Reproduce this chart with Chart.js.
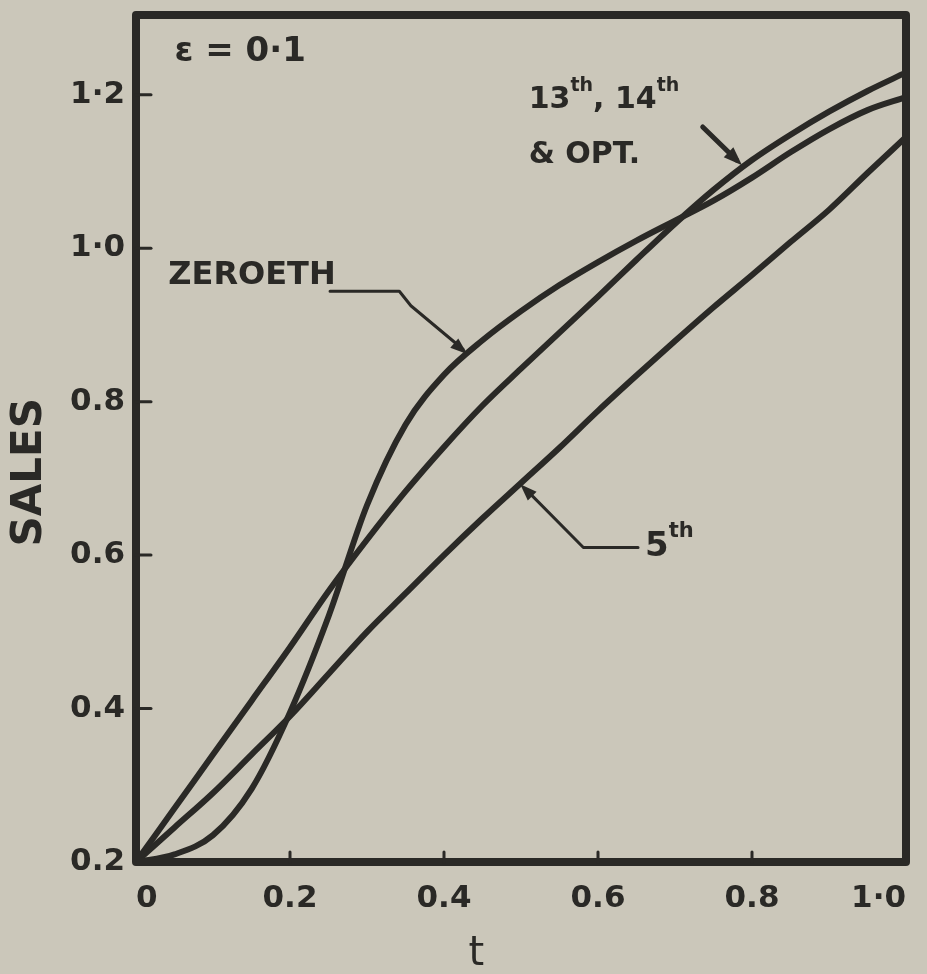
<!DOCTYPE html>
<html>
<head>
<meta charset="utf-8">
<script src="https://cdn.jsdelivr.net/npm/chart.js@4.4.1/dist/chart.umd.min.js"></script>
<style>
  html, body { margin: 0; padding: 0; background: #cbc7ba; }
  #wrap { width: 927px; height: 974px; }
</style>
</head>
<body>
<div id="wrap"><canvas id="salesChart" width="927" height="974"></canvas></div>
<script>
// time axis samples (t) and the three sales paths
const T = [0, 0.05, 0.1, 0.15, 0.2, 0.25, 0.3, 0.35, 0.4, 0.45, 0.5,
           0.55, 0.6, 0.65, 0.7, 0.75, 0.8, 0.85, 0.9, 0.95, 1.0];
const zeroeth = [0.2, 0.21, 0.235, 0.295, 0.395, 0.52, 0.665, 0.77, 0.835, 0.88, 0.918,
                 0.952, 0.982, 1.01, 1.036, 1.062, 1.092, 1.125, 1.155, 1.18, 1.197];
const opt13 = [0.2, 0.27, 0.34, 0.41, 0.48, 0.553, 0.62, 0.683, 0.741, 0.795, 0.843,
               0.89, 0.937, 0.985, 1.032, 1.076, 1.115, 1.148, 1.178, 1.205, 1.229];
const fifth = [0.2, 0.245, 0.29, 0.34, 0.39, 0.445, 0.5, 0.55, 0.6, 0.648, 0.694,
               0.74, 0.788, 0.834, 0.879, 0.923, 0.965, 1.008, 1.05, 1.098, 1.145];

const xTicks = [0, 0.2, 0.4, 0.6, 0.8, 1.0];
const xTickLabels = ['0', '0.2', '0.4', '0.6', '0.8', '1·0'];
const yTicks = [0.2, 0.4, 0.6, 0.8, 1.0, 1.2];
const yTickLabels = ['0.2', '0.4', '0.6', '0.8', '1·0', '1·2'];

const ink = '#2a2926';
const paper = '#cbc7ba';
const handFont = "'DejaVu Sans', sans-serif";

function pts(ys) {
  return T.map((t, i) => ({ x: t, y: ys[i] }));
}

function line(label, ys) {
  return {
    label: label,
    data: pts(ys),
    showLine: true,
    borderColor: ink,
    borderWidth: 6,
    pointRadius: 0,
    cubicInterpolationMode: 'monotone',
    fill: false,
  };
}

function arrowHead(ctx, x1, y1, x2, y2, size) {
  const a = Math.atan2(y2 - y1, x2 - x1);
  ctx.beginPath();
  ctx.moveTo(x2, y2);
  ctx.lineTo(x2 - size * Math.cos(a - 0.35), y2 - size * Math.sin(a - 0.35));
  ctx.lineTo(x2 - size * Math.cos(a + 0.35), y2 - size * Math.sin(a + 0.35));
  ctx.closePath();
  ctx.fill();
}

// draws text pieces; pieces flagged true are raised superscripts
function supText(ctx, parts, x, y, size) {
  let cx = x;
  parts.forEach(([txt, sup]) => {
    ctx.font = 'bold ' + (sup ? Math.round(size * 0.62) : size) + 'px ' + handFont;
    ctx.fillText(txt, cx, sup ? y - size * 0.48 : y);
    cx += ctx.measureText(txt).width;
  });
}

const sketchDecor = {
  id: 'sketchDecor',
  beforeDraw(chart) {
    const ctx = chart.ctx;
    ctx.save();
    ctx.fillStyle = paper;
    ctx.fillRect(0, 0, chart.width, chart.height);
    ctx.restore();
  },
  afterDraw(chart) {
    const ctx = chart.ctx;
    const { left, right, top, bottom } = chart.chartArea;
    const xs = chart.scales.x, ys = chart.scales.y;
    const px = v => xs.getPixelForValue(v);
    const py = v => ys.getPixelForValue(v);

    ctx.save();
    ctx.strokeStyle = ink;
    ctx.fillStyle = ink;
    ctx.lineCap = 'round';

    // frame
    ctx.lineWidth = 8;
    ctx.lineJoin = 'round';
    ctx.strokeRect(left, top, right - left, bottom - top);

    // inner tick marks
    ctx.lineWidth = 3;
    yTicks.slice(1).forEach(v => {
      ctx.beginPath();
      ctx.moveTo(left, py(v));
      ctx.lineTo(left + 15, py(v));
      ctx.stroke();
    });
    xTicks.slice(1, -1).forEach(v => {
      ctx.beginPath();
      ctx.moveTo(px(v), bottom);
      ctx.lineTo(px(v), bottom - 10);
      ctx.stroke();
    });

    ctx.textBaseline = 'middle';
    ctx.textAlign = 'left';

    // epsilon note
    ctx.font = 'bold 34px ' + handFont;
    ctx.fillText('ε = 0·1', px(0.05), py(1.255));

    // ZEROETH label and leader
    ctx.font = 'bold 32px ' + handFont;
    ctx.fillText('ZEROETH', px(0.042), py(0.964));
    ctx.lineWidth = 3;
    ctx.beginPath();
    ctx.moveTo(px(0.252), py(0.944));
    ctx.lineTo(px(0.342), py(0.944));
    ctx.lineTo(px(0.357), py(0.925));
    ctx.lineTo(px(0.425), py(0.868));
    ctx.stroke();
    arrowHead(ctx, px(0.357), py(0.925), px(0.43), py(0.862), 18);

    // 13th, 14th & OPT. label and arrow
    supText(ctx, [['13', false], ['th', true], [', 14', false], ['th', true]], px(0.51), py(1.193), 30);
    ctx.font = 'bold 30px ' + handFont;
    ctx.fillText('& OPT.', px(0.51), py(1.121));
    ctx.lineWidth = 5;
    ctx.beginPath();
    ctx.moveTo(px(0.736), py(1.158));
    ctx.lineTo(px(0.78), py(1.115));
    ctx.stroke();
    arrowHead(ctx, px(0.736), py(1.158), px(0.787), py(1.108), 20);

    // 5th label and leader
    supText(ctx, [['5', false], ['th', true]], px(0.661), py(0.61), 34);
    ctx.lineWidth = 3;
    ctx.beginPath();
    ctx.moveTo(px(0.652), py(0.61));
    ctx.lineTo(px(0.581), py(0.61));
    ctx.lineTo(px(0.506), py(0.686));
    ctx.stroke();
    arrowHead(ctx, px(0.581), py(0.61), px(0.499), py(0.6925), 18);

    // axis titles
    ctx.textAlign = 'center';
    ctx.font = '40px ' + handFont;
    ctx.fillText('t', px(0.442), 955);
    ctx.save();
    ctx.translate(30, py(0.708));
    ctx.rotate(-Math.PI / 2);
    ctx.font = 'bold 42px ' + handFont;
    ctx.fillText('SALES', 0, 0);
    ctx.restore();

    ctx.restore();
  }
};

const config = {
  type: 'scatter',
  data: {
    datasets: [
      line('Zeroeth', zeroeth),
      line('13th, 14th & Opt.', opt13),
      line('5th', fifth),
    ]
  },
  options: {
    responsive: false,
    animation: false,
    devicePixelRatio: 1,
    layout: { padding: { left: 0, right: 21, top: 15, bottom: 0 } },
    plugins: {
      legend: { display: false },
      tooltip: { enabled: false },
    },
    scales: {
      x: {
        type: 'linear',
        min: 0,
        max: 1,
        grid: { display: false, drawTicks: false },
        border: { display: false },
        afterBuildTicks: s => { s.ticks = xTicks.map(v => ({ value: v })); },
        afterFit: s => {
          s.height = 112;
          s.paddingLeft = 0; s.paddingRight = 0;
        },
        ticks: {
          padding: 18,
          align: 'inner',
          maxRotation: 0,
          color: ink,
          font: { family: handFont, size: 31, weight: 'bold' },
          callback: (v, i) => xTickLabels[i],
        },
      },
      y: {
        type: 'linear',
        min: 0.2,
        max: 1.304,
        grid: { display: false, drawTicks: false },
        border: { display: false },
        afterBuildTicks: s => { s.ticks = yTicks.map(v => ({ value: v })); },
        afterFit: s => {
          s.width = 136;
          s.paddingTop = 0; s.paddingBottom = 0;
        },
        ticks: {
          padding: 11,
          color: ink,
          font: { family: handFont, size: 31, weight: 'bold' },
          callback: (v, i) => yTickLabels[i],
        },
      },
    },
  },
  plugins: [sketchDecor],
};

const salesChart = new Chart(document.getElementById('salesChart'), config);
</script>
</body>
</html>
